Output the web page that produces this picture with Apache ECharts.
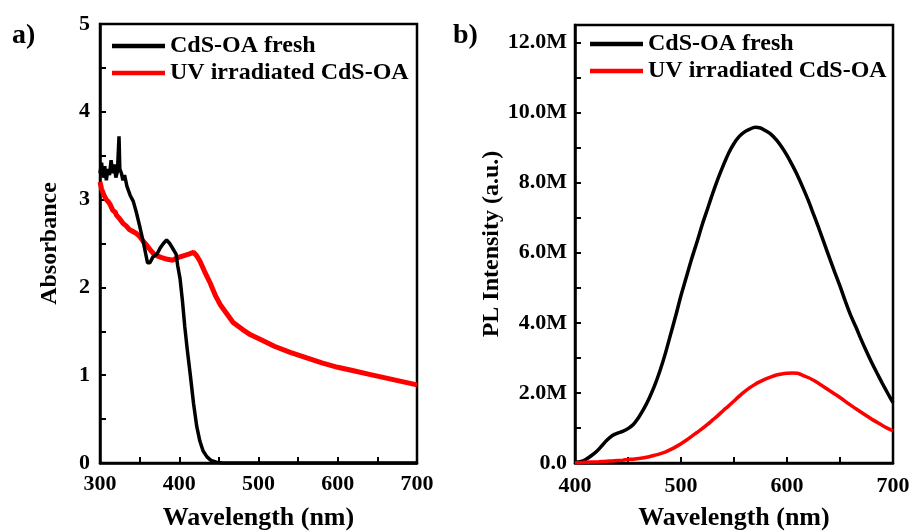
<!DOCTYPE html>
<html>
<head>
<meta charset="utf-8">
<title>CdS-OA absorbance / PL</title>
<script src="https://cdn.jsdelivr.net/npm/echarts@6/dist/echarts.min.js"></script>
<style>
	html, body { margin: 0; padding: 0; background: #fff; }
	#chart { width: 912px; height: 531px; }
</style>
</head>
<body>
<div id="chart"></div>
<script>
// a) absorbance
var absFreshWl = [300, 302, 304, 306, 308, 310, 312, 314, 316, 318, 320, 322, 324, 325, 327, 329, 331, 334, 338, 342, 346, 350, 355, 360, 363, 367, 372, 376, 380, 384, 388, 392, 396, 398, 401, 404, 407, 410, 414, 418, 422, 426, 430, 435, 440, 447, 455, 500, 600, 700];
var absFresh = [3.30, 3.42, 3.25, 3.38, 3.22, 3.35, 3.28, 3.45, 3.30, 3.40, 3.25, 3.32, 3.72, 3.35, 3.30, 3.22, 3.28, 3.15, 3.05, 2.98, 2.85, 2.70, 2.50, 2.28, 2.28, 2.35, 2.38, 2.45, 2.50, 2.54, 2.50, 2.44, 2.38, 2.25, 2.10, 1.85, 1.55, 1.30, 1.00, 0.68, 0.42, 0.25, 0.14, 0.07, 0.03, 0.01, 0, 0, 0, 0];
var absUvWl = [300, 302, 305, 308, 311, 313, 316, 319, 321, 325, 329, 333, 337, 341, 345, 350, 355, 359, 364, 368, 372, 378, 385, 392, 398, 405, 412, 418, 422, 426, 432, 439, 446, 452, 460, 468, 480, 490, 502, 520, 540, 560, 580, 600, 620, 640, 660, 680, 700];
var absUv = [3.20, 3.12, 3.05, 3.00, 2.97, 2.94, 2.88, 2.86, 2.82, 2.78, 2.73, 2.70, 2.66, 2.64, 2.62, 2.58, 2.52, 2.48, 2.42, 2.38, 2.36, 2.34, 2.32, 2.31, 2.34, 2.36, 2.38, 2.40, 2.36, 2.30, 2.18, 2.05, 1.90, 1.80, 1.70, 1.60, 1.52, 1.46, 1.41, 1.33, 1.26, 1.20, 1.14, 1.09, 1.05, 1.01, 0.97, 0.93, 0.89];

// b) PL intensity, in millions
var plWl = [];
for (var w = 400; w <= 700; w += 5) plWl.push(w);
var plFresh = [0.02, 0.04, 0.10, 0.20, 0.32, 0.48, 0.65, 0.78, 0.85, 0.90, 0.98,
	1.10, 1.30, 1.55, 1.85, 2.20, 2.62, 3.10, 3.65, 4.20, 4.78,
	5.30, 5.82, 6.30, 6.80, 7.25, 7.70, 8.12, 8.50, 8.85, 9.12,
	9.32, 9.45, 9.53, 9.58, 9.56, 9.48, 9.38, 9.22, 9.02, 8.78,
	8.50, 8.20, 7.86, 7.50, 7.10, 6.70, 6.28, 5.86, 5.45, 5.05,
	4.62, 4.22, 3.88, 3.52, 3.18, 2.86, 2.56, 2.27, 1.99, 1.72];
var plUv = [0.00, 0.01, 0.02, 0.03, 0.03, 0.04, 0.05, 0.06, 0.07, 0.08, 0.10,
	0.11, 0.13, 0.15, 0.18, 0.22, 0.26, 0.31, 0.38, 0.46, 0.55,
	0.65, 0.76, 0.87, 0.98, 1.10, 1.23, 1.36, 1.50, 1.63, 1.77,
	1.91, 2.04, 2.15, 2.25, 2.33, 2.40, 2.46, 2.51, 2.54, 2.56,
	2.57, 2.56, 2.50, 2.44, 2.36, 2.27, 2.17, 2.07, 1.97, 1.87,
	1.76, 1.65, 1.55, 1.45, 1.35, 1.25, 1.16, 1.07, 0.99, 0.92];

var seriesNames = ['CdS-OA fresh', 'UV irradiated CdS-OA'];
var font = 'Liberation Serif';

function pairs(xs, ys) {
	var out = [];
	for (var i = 0; i < xs.length; i++) out.push([xs[i], ys[i]]);
	return out;
}

// 共用的坐标轴样式
function axisBase(extra) {
	var a = {
		type: 'value',
		axisLine: { show: true, lineStyle: { color: '#000', width: 2.5 } },
		axisTick: { show: true, inside: true, length: 6, lineStyle: { color: '#000', width: 2 } },
		minorTick: { show: true, splitNumber: 2, length: 6, lineStyle: { color: '#000', width: 2 } },
		splitLine: { show: false },
		axisLabel: { color: '#000', fontFamily: font, fontWeight: 'bold', fontSize: 22 },
		nameLocation: 'middle',
		nameTextStyle: { color: '#000', fontFamily: font, fontWeight: 'bold', fontSize: 24 }
	};
	for (var k in extra) {
		if (typeof extra[k] === 'object' && a[k] && typeof a[k] === 'object') {
			for (var j in extra[k]) a[k][j] = extra[k][j];
		} else {
			a[k] = extra[k];
		}
	}
	return a;
}

var legendText = { color: '#000', fontFamily: font, fontWeight: 'bold', fontSize: 24 };
var legendData = [
	{ name: seriesNames[0], icon: 'rect', itemStyle: { color: '#000' } },
	{ name: seriesNames[1], icon: 'rect', itemStyle: { color: '#ff0000' } }
];
var xName = { color: '#000', fontFamily: font, fontWeight: 'bold', fontSize: 26 };

var option = {
	backgroundColor: '#fff',
	animation: false,
	graphic: [
		{ type: 'text', left: 12, top: 22, style: { text: 'a)', fill: '#000', font: 'bold 28px "Liberation Serif"' } },
		{ type: 'text', left: 453, top: 22, style: { text: 'b)', fill: '#000', font: 'bold 28px "Liberation Serif"' } }
	],
	grid: [
		{ left: 100, top: 24, width: 317, height: 439, outerBoundsMode: 'none', show: true, borderColor: '#000', borderWidth: 2.5, backgroundColor: '#fff' },
		{ left: 575, top: 25, width: 318, height: 438, outerBoundsMode: 'none', show: true, borderColor: '#000', borderWidth: 2.5, backgroundColor: '#fff' }
	],
	legend: [
		{ left: 112, top: 34, padding: 0, orient: 'vertical', itemWidth: 53, itemHeight: 4.5, itemGap: 3, data: legendData, textStyle: legendText },
		{ left: 590, top: 32, padding: 0, orient: 'vertical', itemWidth: 53, itemHeight: 4.5, itemGap: 3, data: legendData, textStyle: legendText }
	],
	xAxis: [
		axisBase({ gridIndex: 0, min: 300, max: 700, interval: 100, name: 'Wavelength (nm)', nameGap: 42,
			nameTextStyle: xName, axisLabel: { margin: 10 } }),
		axisBase({ gridIndex: 1, min: 400, max: 700, interval: 100, name: 'Wavelength (nm)', nameGap: 42,
			nameTextStyle: xName, axisLabel: { margin: 12 } })
	],
	yAxis: [
		axisBase({ gridIndex: 0, min: 0, max: 5, interval: 1, name: 'Absorbance', nameGap: 38,
			axisLabel: { margin: 10 } }),
		axisBase({ gridIndex: 1, min: 0, max: 12.5, interval: 1, name: 'PL Intensity (a.u.)', nameGap: 70,
			minorTick: { show: false },
			axisLabel: {
				margin: 8,
				formatter: function (v) {
					if (v === 0) return '0.0';
					if (v % 2 !== 0) return '';
					return v.toFixed(1) + 'M';
				}
			} })
	],
	series: [
		{ name: seriesNames[0], type: 'line', xAxisIndex: 0, yAxisIndex: 0, symbol: 'none',
			lineStyle: { color: '#000', width: 3.5 }, itemStyle: { color: '#000' }, data: pairs(absFreshWl, absFresh), z: 3 },
		{ name: seriesNames[1], type: 'line', xAxisIndex: 0, yAxisIndex: 0, symbol: 'none',
			lineStyle: { color: '#ff0000', width: 5 }, itemStyle: { color: '#ff0000' }, data: pairs(absUvWl, absUv), z: 2 },
		{ name: seriesNames[0], type: 'line', xAxisIndex: 1, yAxisIndex: 1, symbol: 'none', smooth: 0.3,
			lineStyle: { color: '#000', width: 3.5 }, itemStyle: { color: '#000' }, data: pairs(plWl, plFresh) },
		{ name: seriesNames[1], type: 'line', xAxisIndex: 1, yAxisIndex: 1, symbol: 'none', smooth: 0.3,
			lineStyle: { color: '#ff0000', width: 3.5 }, itemStyle: { color: '#ff0000' }, data: pairs(plWl, plUv) }
	]
};

var myChart = echarts.init(document.getElementById('chart'));
myChart.setOption(option);
</script>
</body>
</html>
